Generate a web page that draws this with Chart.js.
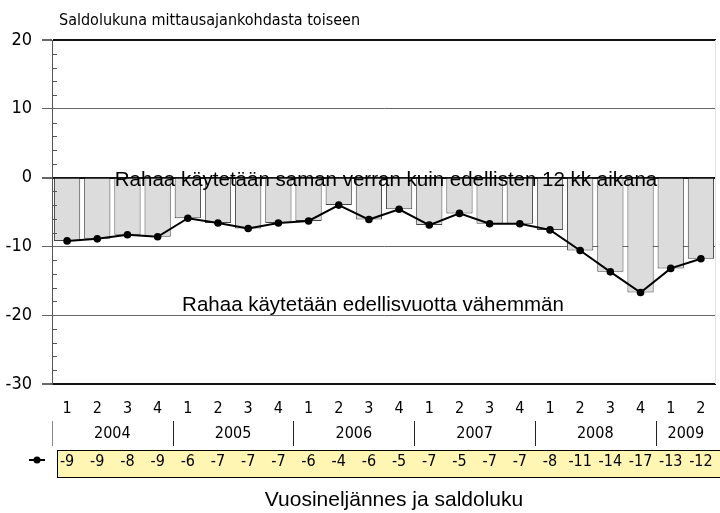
<!DOCTYPE html>
<html>
<head>
<meta charset="utf-8">
<script src="https://cdn.jsdelivr.net/npm/chart.js@4/dist/chart.umd.min.js"></script>
<style>
  html, body { margin: 0; padding: 0; background: #fff; }
  #wrap { width: 720px; height: 513px; position: relative; }
</style>
</head>
<body>
<div id="wrap"><canvas id="c" width="720" height="513"></canvas></div>
<script>
// Quarterly balance figures (saldoluku), 2004 Q1 – 2009 Q2
const quarterLabels = ['1','2','3','4','1','2','3','4','1','2','3','4','1','2','3','4','1','2','3','4','1','2'];
const yearLabels = ['2004','2005','2006','2007','2008','2009'];
const quartersPerYear = [4, 4, 4, 4, 4, 2];
const balance = [-9.2, -8.9, -8.3, -8.6, -5.9, -6.6, -7.4, -6.6, -6.3, -4.0, -6.1, -4.6,
                 -6.9, -5.2, -6.7, -6.7, -7.6, -10.6, -13.7, -16.7, -13.2, -11.8];
const yTicks = [20, 10, 0, -10, -20, -30];

const NARROW = '"Liberation Sans Narrow", "DejaVu Sans Condensed", "Roboto", sans-serif';
const WIDE = '"Liberation Sans", Arial, sans-serif';

const categories = quarterLabels.map((q, i) => 'Q' + q + '-' + i);
const isFrame = v => v === 0 || v === 20 || v === -30;

const extras = {
  id: 'extras',
  afterDatasetsDraw(chart) {
    const { ctx, chartArea: a, scales: { x, y } } = chart;
    ctx.save();

    // faint right-hand frame edge
    ctx.strokeStyle = '#e4e4e4';
    ctx.lineWidth = 1;
    ctx.beginPath();
    ctx.moveTo(a.right - 0.5, a.top);
    ctx.lineTo(a.right - 0.5, a.bottom);
    ctx.stroke();

    // minor ticks on the inner side of the value axis
    ctx.strokeStyle = '#555';
    for (let v = -30; v <= 20; v += 2) {
      if (v % 10 === 0) continue;
      const py = Math.round(y.getPixelForValue(v)) + 0.5;
      ctx.beginPath();
      ctx.moveTo(a.left, py);
      ctx.lineTo(a.left + 5, py);
      ctx.stroke();
    }

    // zone captions
    ctx.fillStyle = '#000';
    ctx.font = '20.5px ' + WIDE;
    ctx.textAlign = 'center';
    ctx.textBaseline = 'middle';
    ctx.fillText('Rahaa käytetään saman verran kuin edellisten 12 kk aikana', 386, y.getPixelForValue(0) + 3);
    ctx.fillText('Rahaa käytetään edellisvuotta vähemmän', 373, y.getPixelForValue(-20) - 10);

    // axis caption at top
    ctx.textAlign = 'left';
    ctx.font = '16px ' + NARROW;
    ctx.fillText('Saldolukuna mittausajankohdasta toiseen', 59, 21);

    // quarter labels
    ctx.textAlign = 'center';
    ctx.font = '16px ' + NARROW;
    quarterLabels.forEach((q, i) => ctx.fillText(q, x.getPixelForValue(i), 409));

    // year labels with separators
    const half = (x.getPixelForValue(1) - x.getPixelForValue(0)) / 2;
    let idx = 0;
    yearLabels.forEach((yr, k) => {
      const n = quartersPerYear[k];
      const left = x.getPixelForValue(idx) - half;
      const right = x.getPixelForValue(idx + n - 1) + half;
      ctx.strokeStyle = k === 0 ? '#888' : '#222';
      ctx.beginPath();
      ctx.moveTo(Math.round(left) + 0.5, 421);
      ctx.lineTo(Math.round(left) + 0.5, 446);
      ctx.stroke();
      ctx.fillStyle = '#000';
      ctx.fillText(yr, (left + right) / 2, 434);
      idx += n;
    });

    // data table row
    ctx.fillStyle = '#fff6b4';
    ctx.fillRect(57.5, 450.5, 680, 27);
    ctx.strokeStyle = '#000';
    ctx.strokeRect(57.5, 450.5, 680, 27);
    ctx.fillStyle = '#000';
    ctx.font = '16px ' + NARROW;
    balance.forEach((v, i) => ctx.fillText(String(Math.round(v)), x.getPixelForValue(i), 462));

    // series key
    ctx.lineWidth = 2;
    ctx.beginPath();
    ctx.moveTo(29, 460);
    ctx.lineTo(45, 460);
    ctx.stroke();
    ctx.beginPath();
    ctx.arc(37, 460, 3.5, 0, Math.PI * 2);
    ctx.fill();

    // x axis title
    ctx.font = '21px ' + WIDE;
    ctx.fillText('Vuosineljännes ja saldoluku', 394, 500);

    ctx.restore();
  }
};

new Chart(document.getElementById('c'), {
  data: {
    labels: categories,
    datasets: [
      {
        type: 'line',
        data: balance,
        order: 0,
        borderColor: '#000',
        borderWidth: 2,
        pointRadius: 3.8,
        pointBackgroundColor: '#000',
        pointBorderWidth: 0,
        tension: 0
      },
      {
        type: 'bar',
        data: balance,
        order: 1,
        backgroundColor: '#dcdcdc',
        borderColor: '#444',
        borderWidth: 1,
        categoryPercentage: 1,
        barPercentage: 0.87
      }
    ]
  },
  options: {
    responsive: false,
    animation: false,
    events: [],
    layout: { padding: { top: 40, bottom: 129, left: 0, right: 1 } },
    plugins: { legend: { display: false }, tooltip: { enabled: false } },
    scales: {
      x: { display: false, offset: true },
      y: {
        min: -30,
        max: 20,
        afterFit(s) { s.width = 52; },
        afterBuildTicks(s) { s.ticks = yTicks.map(v => ({ value: v })); },
        border: { display: true, color: '#555', width: 1 },
        grid: {
          color: c => (c.tick && isFrame(c.tick.value)) ? '#111' : '#666',
          lineWidth: c => (c.tick && isFrame(c.tick.value)) ? 2 : 1,
          tickColor: '#666',
          tickLength: 10,
          drawTicks: true
        },
        ticks: {
          padding: 10,
          color: '#000',
          font: { family: NARROW, size: 18 }
        }
      }
    }
  },
  plugins: [extras]
});
</script>
</body>
</html>
